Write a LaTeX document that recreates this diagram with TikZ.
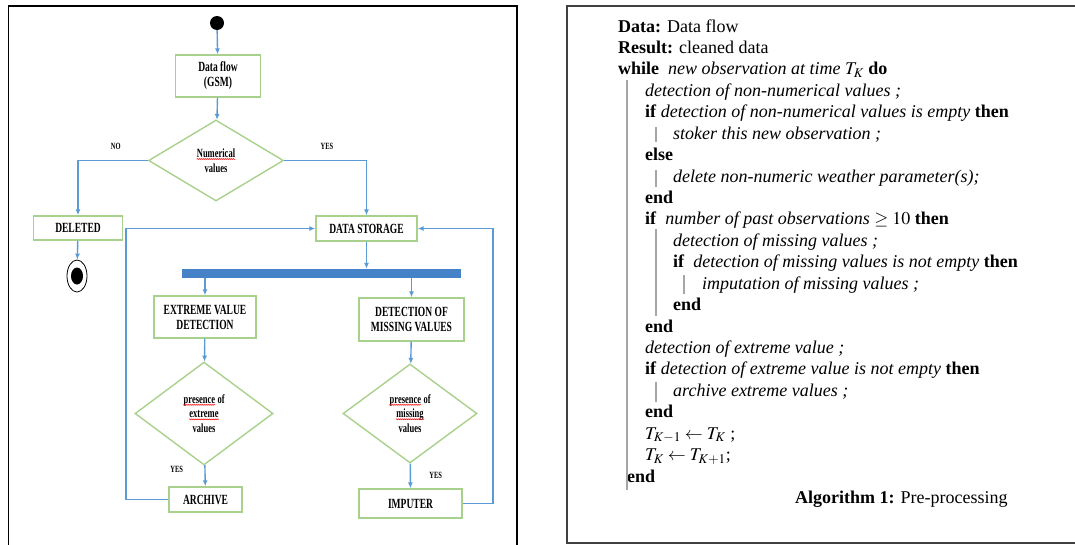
\documentclass[tikz,border=0pt]{standalone}
\usepackage{mathptmx}
\usepackage{fontspec}
\setmainfont{Liberation Serif}
\newfontfamily\narrow[FakeStretch=0.68]{Liberation Serif}
\usetikzlibrary{shapes.geometric,arrows.meta,positioning,decorations.pathmorphing}
\definecolor{flowblue}{RGB}{91,155,213}
\definecolor{boxgreen}{RGB}{169,209,142}
\definecolor{barblue}{RGB}{70,130,200}
\newcommand{\spell}[1]{\tikz[baseline=(w.base)]{\node[rectangle, draw=none, inner sep=0pt, minimum size=0pt] (w) {#1};
  \draw[red, line width=0.5pt, decorate, decoration={snake, amplitude=0.5pt, segment length=2pt}]
    ([yshift=-1.5pt]w.base west) -- ([yshift=-1.5pt]w.base east);}}

\begin{document}
\begin{tikzpicture}[x=1pt, y=-1pt,
  box/.style={draw=boxgreen, line width=1.4pt, inner sep=1pt, align=center, font=\narrow\bfseries\fontsize{14}{15}\selectfont},
  dia/.style={diamond, draw=boxgreen, line width=1.4pt, inner sep=0pt, align=center, font=\narrow\bfseries\fontsize{12.5}{14.5}\selectfont},
  arr/.style={-{Latex[length=6pt,width=5pt]}, draw=flowblue, line width=1.4pt},
  yn/.style={font=\narrow\bfseries\fontsize{9.5}{10}\selectfont},
  ln/.style={anchor=base west, inner sep=0pt, font=\fontsize{18}{21}\selectfont},
  blk/.style={draw=gray!70, line width=1.1pt}]
  \useasboundingbox (0,0) rectangle (1075,544);
  \draw[line width=1.4pt] (8.5,6) rectangle (517,552);
  \draw[line width=1.4pt, black!75] (567,6) rectangle (1082,543);

  % flowchart
  \node[circle, fill, minimum size=14pt, inner sep=0pt] (start) at (217,23) {};
  \node[box, minimum width=85pt, minimum height=42pt] (src) at (218,76) {Data flow\\(GSM)};
  \node[dia, minimum width=135pt, minimum height=81pt] (num) at (216,160.5) {\spell{Numerical}\\values};
  \node[box, minimum width=89pt, minimum height=24pt] (del) at (78,228) {DELETED};
  \node[draw, ellipse, minimum width=20pt, minimum height=32pt, inner sep=0pt, line width=0.8pt] (stop) at (77,276) {};
  \node[ellipse, fill, minimum width=12pt, minimum height=17pt, inner sep=0pt] at (stop) {};
  \node[box, minimum width=101pt, minimum height=25pt] (store) at (366.5,228.5) {DATA STORAGE};
  \node[fill=barblue, minimum width=279pt, minimum height=9pt, inner sep=0pt] (bar) at (321.5,273.5) {};
  \node[box, minimum width=102pt, minimum height=42pt] (evd) at (205,317) {EXTREME VALUE\\DETECTION};
  \node[box, minimum width=105pt, minimum height=43pt] (dmv) at (411.5,319.5) {DETECTION OF\\MISSING VALUES};
  \node[dia, minimum width=138pt, minimum height=103pt] (ext) at (204,413.5) {\spell{presence} of\\\spell{extreme}\\values};
  \node[dia, minimum width=134pt, minimum height=99pt] (mis) at (410,413.5) {\spell{presence} of\\\spell{missing}\\values};
  \node[box, minimum width=73pt, minimum height=25pt] (arch) at (205.5,499.5) {ARCHIVE};
  \node[box, minimum width=103pt, minimum height=29pt] (imp) at (410.5,503.5) {IMPUTER};
  \coordinate (bl) at (126,499.5);
  \coordinate (br) at (493,503.5);

  \draw[arr] (start) -- (src);
  \draw[arr] (src) -- (num);
  \draw[arr] (num.west) -| (del.north) node[yn, pos=0.23, above=7pt] {NO};
  \draw[arr] (num.east) -| (store.north) node[yn, pos=0.26, above=7pt] {YES};
  \draw[arr] (del) -- (stop);
  \draw[arr] (store) -- (store |- bar.north);
  \draw[arr] (bar.south -| evd) -- (evd);
  \draw[arr] (bar.south -| dmv) -- (dmv);
  \draw[arr] (evd) -- (ext);
  \draw[arr] (dmv) -- (mis);
  \draw[arr] (ext) -- (arch) node[yn, pos=0.22, left=18pt] {YES};
  \draw[arr] (mis) -- (imp) node[yn, pos=0.46, right=15pt] {YES};
  \draw[arr] (arch.west) -- (bl) |- (store.west);
  \draw[arr] (imp.east) -- (br) |- (store.east);

  % algorithm
  \node[ln] (l1) at (618,32) {\textbf{Data:} Data flow};
  \node[ln] (l2) at (618,53.4) {\textbf{Result:} cleaned data};
  \node[ln] (l3) at (618,74.9) {\textbf{while}\ \ \textit{new observation at time} $T_K$ \textbf{do}};
  \node[ln] (l4) at (645,96.3) {\textit{detection of non-numerical values ;}};
  \node[ln] (l5) at (645,117.7) {\textbf{if} \textit{detection of non-numerical values is empty} \textbf{then}};
  \node[ln] (l6) at (673,139.2) {\textit{stoker this new observation ;}};
  \node[ln] (l7) at (645,160.6) {\textbf{else}};
  \node[ln] (l8) at (673,182) {\textit{delete non-numeric weather parameter(s);}};
  \node[ln] (l9) at (645,203.4) {\textbf{end}};
  \node[ln] (l10) at (645,224.9) {\textbf{if}\ \ \textit{number of past observations} $\geq 10$ \textbf{then}};
  \node[ln] (l11) at (673,246.3) {\textit{detection of missing values ;}};
  \node[ln] (l12) at (673,267.7) {\textbf{if}\ \ \textit{detection of missing values is not empty} \textbf{then}};
  \node[ln] (l13) at (702,289.1) {\textit{imputation of missing values ;}};
  \node[ln] (l14) at (673,310.6) {\textbf{end}};
  \node[ln] (l15) at (645,332) {\textbf{end}};
  \node[ln] (l16) at (645,353.4) {\textit{detection of extreme value ;}};
  \node[ln] (l17) at (645,374.9) {\textbf{if} \textit{detection of extreme value is not empty} \textbf{then}};
  \node[ln] (l18) at (673,396.3) {\textit{archive extreme values ;}};
  \node[ln] (l19) at (645,417.7) {\textbf{end}};
  \node[ln] (l20) at (645,439.1) {$T_{K-1} \leftarrow T_K$ ;};
  \node[ln] (l21) at (645,460.6) {$T_K \leftarrow T_{K+1}$;};
  \node[ln] (l22) at (627,482) {\textbf{end}};
  \node[ln] (cap) at (795,503) {\textbf{Algorithm 1:} Pre-processing};

  \draw[blk] (627,80) -- (627,490);
  \draw[blk] (656,127) -- (656,142);
  \draw[blk] (656,170) -- (656,187);
  \draw[blk] (656,229) -- (656,316);
  \draw[blk] (684,275) -- (684,294);
  \draw[blk] (656,382) -- (656,402);
\end{tikzpicture}
\end{document}
